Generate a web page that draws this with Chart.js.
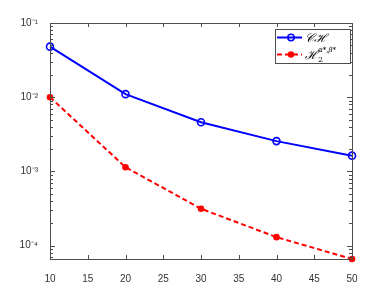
<!DOCTYPE html>
<html lang="en">
  <head>
    <meta charset="UTF-8" />
    <title>Error decay</title>
    <script src="https://cdn.jsdelivr.net/npm/chart.js"></script>
    <style>
      html, body { margin: 0; padding: 0; background: #fff; }
      #wrap { position: relative; width: 389px; height: 292px; }
    </style>
  </head>
  <body>
    <div id="wrap">
      <canvas id="myChart" width="389" height="292"></canvas>
    </div>

    <script>
      // data
      var nValues = [10, 20, 30, 40, 50];
      var errCH = [0.048, 0.011, 0.0046, 0.00256, 0.00163];
      var errH2 = [0.0100, 0.00114, 0.000314, 0.000130, 0.000066];
      var xTicks = [10, 15, 20, 25, 30, 35, 40, 45, 50];
      var yMin = 0.000066;
      var yMax = 0.1;
      var supers = { "-": "\u207B", "1": "\u00B9", "2": "\u00B2", "3": "\u00B3", "4": "\u2074", "5": "\u2075" };

      var axisColor = "#4d4d4d";
      var tickFont = { family: "Liberation Sans, Arial, sans-serif", size: 10 };

      function toPoints(ys) {
        var pts = [];
        for (var i = 0; i < nValues.length; i++) pts.push({ x: nValues[i], y: ys[i] });
        return pts;
      }

      function isDecade(v) {
        var l = Math.log10(v);
        return Math.abs(l - Math.round(l)) < 1e-9;
      }

      // box, inward ticks and legend (MATLAB style)
      var boxPlugin = {
        id: "box",
        afterDraw: function (chart) {
          var c = chart.ctx;
          var a = chart.chartArea;
          var xs = chart.scales.x;
          var ys = chart.scales.y;
          c.save();
          c.strokeStyle = axisColor;
          c.lineWidth = 1;
          c.strokeRect(Math.round(a.left) + 0.5, Math.round(a.top) + 0.5,
            Math.round(a.right - a.left), Math.round(a.bottom - a.top));
          c.beginPath();
          xTicks.forEach(function (v) {
            var px = Math.round(xs.getPixelForValue(v)) + 0.5;
            c.moveTo(px, a.bottom); c.lineTo(px, a.bottom - 4);
            c.moveTo(px, a.top); c.lineTo(px, a.top + 4);
          });
          for (var e = -5; e <= -1; e++) {
            for (var k = 1; k <= 9; k++) {
              var v = k * Math.pow(10, e);
              if (v < yMin || v > yMax) continue;
              var py = Math.round(ys.getPixelForValue(v)) + 0.5;
              var len = k === 1 ? 5 : 3;
              c.moveTo(a.left, py); c.lineTo(a.left + len, py);
              c.moveTo(a.right, py); c.lineTo(a.right - len, py);
            }
          }
          c.stroke();

          // legend
          var lx = 275, ly = 29, lw = 75, lh = 34;
          c.fillStyle = "#fff";
          c.fillRect(lx, ly, lw, lh);
          c.strokeStyle = axisColor;
          c.strokeRect(lx + 0.5, ly + 0.5, lw, lh);

          var r1 = ly + 8.5, r2 = ly + 25.5;
          c.lineWidth = 2;
          c.strokeStyle = "#0000ff";
          c.beginPath(); c.moveTo(lx + 2, r1); c.lineTo(lx + 27, r1); c.stroke();
          c.lineWidth = 1.5;
          c.beginPath(); c.arc(lx + 16, r1, 3.2, 0, Math.PI * 2); c.stroke();

          c.lineWidth = 2;
          c.strokeStyle = "#ff0000";
          c.setLineDash([5, 3]);
          c.beginPath(); c.moveTo(lx + 2, r2); c.lineTo(lx + 27, r2); c.stroke();
          c.setLineDash([]);
          c.fillStyle = "#ff0000";
          c.beginPath(); c.arc(lx + 16, r2, 3.2, 0, Math.PI * 2); c.fill();

          c.fillStyle = "#000";
          c.textBaseline = "middle";
          c.font = "italic 12px 'DejaVu Serif', serif";
          c.fillText("\uD835\uDC9E\u210B", lx + 30, r1 + 1);
          c.fillText("\u210B", lx + 30, r2 + 1);
          var hw = c.measureText("\u210B").width;
          c.font = "8px 'DejaVu Serif', serif";
          c.fillText("2", lx + 30 + hw, r2 + 5);
          c.font = "italic 7px 'DejaVu Serif', serif";
          c.fillText("\u03B1*,\u03B2*", lx + 30 + hw, r2 - 4);
          c.restore();
        },
      };

      var ctx = document.getElementById("myChart").getContext("2d");
      var myChart = new Chart(ctx, {
        type: "line",
        data: {
          datasets: [
            {
              label: "CH",
              data: toPoints(errCH),
              borderColor: "#0000ff",
              backgroundColor: "#fff",
              borderWidth: 2,
              pointRadius: 3.5,
              pointBorderWidth: 1.6,
              pointBorderColor: "#0000ff",
              pointBackgroundColor: "rgba(0,0,0,0)",
              tension: 0,
            },
            {
              label: "H2",
              data: toPoints(errH2),
              borderColor: "#ff0000",
              backgroundColor: "#ff0000",
              borderWidth: 2,
              borderDash: [5, 3],
              pointRadius: 3.3,
              pointBorderWidth: 0,
              pointBackgroundColor: "#ff0000",
              tension: 0,
            },
          ],
        },
        options: {
          responsive: false,
          animation: false,
          clip: false,
          layout: { padding: { left: 0, top: 23, right: 37, bottom: 0 } },
          plugins: { legend: { display: false }, tooltip: { enabled: false } },
          scales: {
            x: {
              type: "linear",
              min: 10,
              max: 50,
              grid: { display: false },
              border: { display: false },
              afterBuildTicks: function (scale) {
                scale.ticks = xTicks.map(function (v) { return { value: v }; });
              },
              afterFit: function (scale) { scale.height = 33; },
              ticks: { font: tickFont, color: "#333", padding: 6, maxRotation: 0, autoSkip: false },
            },
            y: {
              type: "logarithmic",
              min: yMin,
              max: yMax,
              grid: { display: false },
              border: { display: false },
              afterFit: function (scale) { scale.width = 50; },
              ticks: {
                font: tickFont,
                color: "#333",
                padding: 4,
                autoSkip: false,
                callback: function (v) {
                  if (!isDecade(v)) return "";
                  var e = String(Math.round(Math.log10(v)));
                  var s = "";
                  for (var i = 0; i < e.length; i++) s += supers[e[i]];
                  return "10" + s;
                },
              },
            },
          },
        },
        plugins: [boxPlugin],
      });
    </script>
  </body>
</html>
